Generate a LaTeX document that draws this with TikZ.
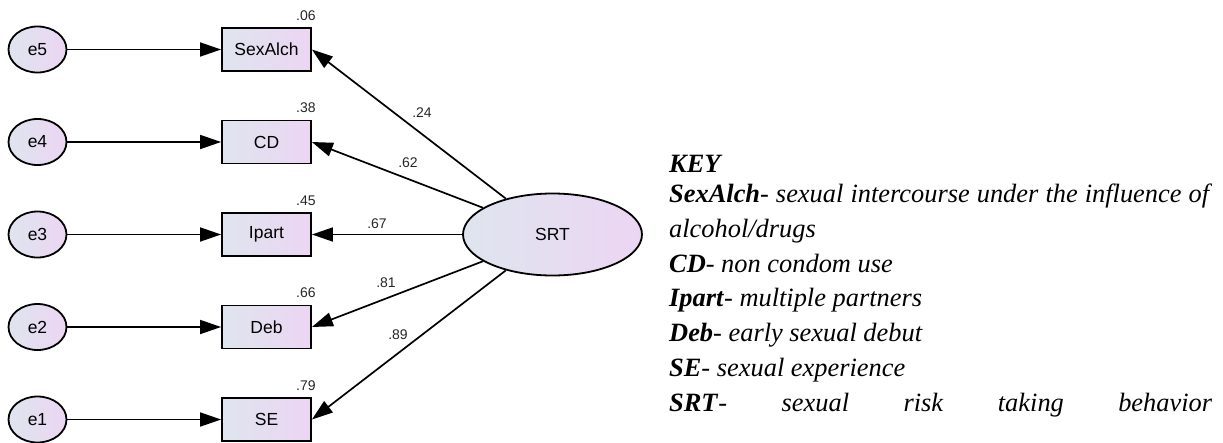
\documentclass[tikz,border=0pt]{standalone}
\usepackage{fontspec}
\setmainfont{Liberation Serif}
\newfontfamily\diagfont{Liberation Sans}
\usetikzlibrary{arrows.meta,shapes.geometric}
\definecolor{fillA}{HTML}{DFE5EE}
\definecolor{fillB}{HTML}{ECD5F3}
\begin{document}
\begin{tikzpicture}[x=1pt,y=-1pt,
  shaded/.style={draw,line width=1.8pt,inner sep=0pt,left color=fillA,right color=fillB,
    font=\diagfont\fontsize{17.5}{17.5}\selectfont},
  obs/.style={shaded,rectangle,minimum width=89pt,minimum height=43pt},
  err/.style={shaded,ellipse,minimum width=58pt,minimum height=46pt},
  lat/.style={shaded,ellipse,minimum width=179pt,minimum height=82pt},
  arr/.style={line width=1.7pt,-{Triangle[length=21pt,width=14pt]}},
  coef/.style={inner sep=0pt,text=black!85,font=\diagfont\fontsize{14}{14}\selectfont},
  rsq/.style={coef,anchor=base east},
  keyline/.style={anchor=base west,inner sep=0pt,font=\fontsize{26.4}{30}\selectfont}
]
\useasboundingbox (0,0) rectangle (1223,442);

% error terms
\node[err] (e5) at (37.5,49.5) {e5};
\node[err] (e4) at (37.5,142) {e4};
\node[err] (e3) at (37.5,234.5) {e3};
\node[err] (e2) at (37.5,327) {e2};
\node[err] (e1) at (37.5,419.5) {e1};

% observed indicators
\node[obs] (b5) at (266.5,49.5) {SexAlch};
\node[obs] (b4) at (266.5,142) {CD};
\node[obs] (b3) at (266.5,234.5) {Ipart};
\node[obs] (b2) at (266.5,327) {Deb};
\node[obs] (b1) at (266.5,419.5) {SE};

% latent factor
\node[lat] (srt) at (552.5,234.5) {SRT};

% squared multiple correlations
\node[rsq] (r5) at ([shift={(4,-7)}]b5.north east) {.06};
\node[rsq] (r4) at ([shift={(4,-7)}]b4.north east) {.38};
\node[rsq] (r3) at ([shift={(4,-7)}]b3.north east) {.45};
\node[rsq] (r2) at ([shift={(4,-7)}]b2.north east) {.66};
\node[rsq] (r1) at ([shift={(4,-7)}]b1.north east) {.79};

% error paths
\foreach \i in {1,...,5}
  \draw[arr] (e\i) -- (b\i.west);

% factor loadings
\foreach \i in {1,...,5}
  \draw[arr] (srt) -- (b\i.east);

\node[coef] (l5) at (422,113) {.24};
\node[coef] (l4) at (408,163) {.62};
\node[coef] (l3) at (377,223.5) {.67};
\node[coef] (l2) at (386,283) {.81};
\node[coef] (l1) at (398,335) {.89};

% legend
\node[keyline] (k0) at (669,172) {\textbf{\textit{KEY}}};
\node[keyline] (k1) at (669,202) {\hbox to 543pt{\textbf{\textit{SexAlch}}\textit{- sexual intercourse under the influence of}}};
\node[keyline] (k2) at (669,237) {\textit{alcohol/drugs}};
\node[keyline] (k3) at (669,272) {\textbf{\textit{CD}}\textit{- non condom use}};
\node[keyline] (k4) at (669,306.5) {\textbf{\textit{Ipart}}\textit{- multiple partners}};
\node[keyline] (k5) at (669,341) {\textbf{\textit{Deb}}\textit{- early sexual debut}};
\node[keyline] (k6) at (669,376) {\textbf{\textit{SE}}\textit{- sexual experience}};
\node[keyline] (k7) at (669,411) {\hbox to 543pt{\textbf{\textit{SRT}}\textit{-}\hfill\textit{sexual}\hfill\textit{risk}\hfill\textit{taking}\hfill\textit{behavior}}};
\end{tikzpicture}
\end{document}
